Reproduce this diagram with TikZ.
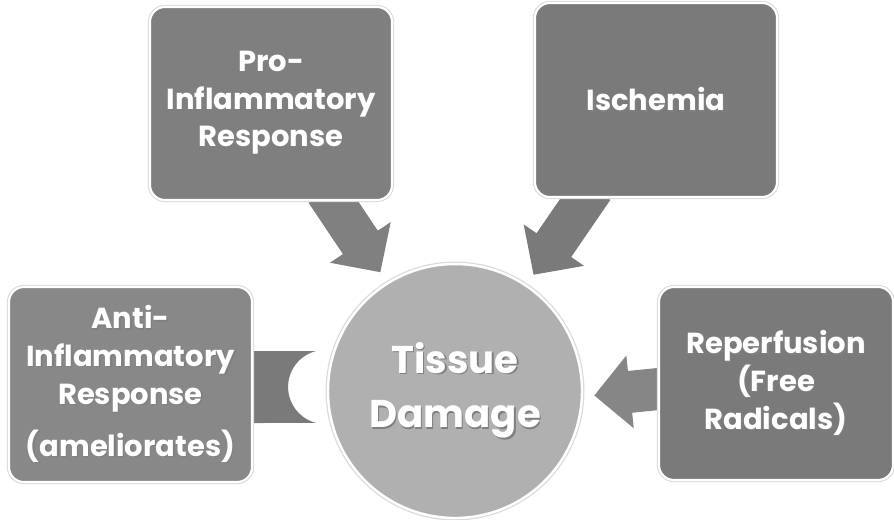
\documentclass[tikz,border=0pt]{standalone}
\usepackage{fontspec}
\setmainfont{Poppins}
\usepackage{tikz}
\usetikzlibrary{arrows.meta,positioning,calc,backgrounds}
\definecolor{boxgray}{HTML}{7F7F7F}
\definecolor{darkgray}{HTML}{7A7A7A}
\definecolor{lightbox}{HTML}{888888}
\definecolor{circlegray}{HTML}{B0B0B0}
\definecolor{arrowgray}{HTML}{868686}
\definecolor{rimgray}{HTML}{DADADA}
\newcommand\shd[1]{\makebox[0pt][l]{\kern0.8pt\raisebox{-0.8pt}{\textcolor{black!50}{#1}}}#1}

\begin{document}
\begin{tikzpicture}[
  box/.style={rectangle,rounded corners=0.3cm,fill=boxgray,draw=white,line width=1.2pt,
    preaction={draw=rimgray,line width=2.4pt},text=white,align=center,inner sep=0pt,
    font=\fontsize{16.5}{21.5}\selectfont\bfseries,minimum width=4.84cm,minimum height=3.86cm},
  hub/.style={circle,fill=circlegray,draw=white,line width=1.4pt,
    preaction={draw=rimgray,line width=2.8pt},text=white,align=center,inner sep=0pt,
    font=\fontsize{22}{31}\selectfont\bfseries,minimum size=5.08cm},
  bigarrow/.style={arrowgray,line width=0.84cm,-{Triangle[length=0.72cm,width=1.42cm]}},
  inhib/.style={fill=arrowgray!110}]
  \useasboundingbox (0,0) rectangle (17.88,-10.38);
  % ---- centre
  \node[hub] (tissue) at (9.10,-7.82) {\shd{Tissue}\\\shd{Damage}};
  % ---- causes
  \node[box] (pro)  at (5.42,-2.07) {\shd{Pro-}\\\shd{Inflammatory}\\\shd{Response}};
  \node[box,fill=darkgray,minimum height=3.88cm] (isch) at (13.12,-2.00) {\shd{Ischemia}};
  \node[box,fill=darkgray,minimum width=4.68cm] (rep) at (15.52,-7.67) {\shd{Reperfusion}\\\shd{(Free}\\\shd{Radicals)}};
  % ---- protection
  \node[box,fill=lightbox,minimum width=4.86cm,minimum height=3.90cm] (anti) at (2.61,-7.69)
    {\shd{Anti-}\\\shd{Inflammatory}\\\shd{Response}\\[0.28cm]\shd{(ameliorates)}};
  % ---- connectors
  \begin{scope}[on background layer]
    \draw[bigarrow,arrowgray!105] ([shift={(1.10,0.2)}]pro.south) -- (tissue.122) [shorten >=0.24cm];
    \draw[bigarrow,darkgray] ([shift={(-1.26,0.2)}]isch.south) -- (tissue.56) [shorten >=0.24cm];
    \draw[bigarrow] ([shift={(0.2,-0.09)}]rep.west) -- ([shift={(0.22,-0.09)}]tissue.east);
    \fill[inhib] ([shift={(-0.1,0.67)}]anti.east) -- ++(1.36,0)
      arc[start angle=104.2,end angle=255.8,radius=0.742] -- ([shift={(-0.1,-0.77)}]anti.east) -- cycle;
  \end{scope}
\end{tikzpicture}
\end{document}
